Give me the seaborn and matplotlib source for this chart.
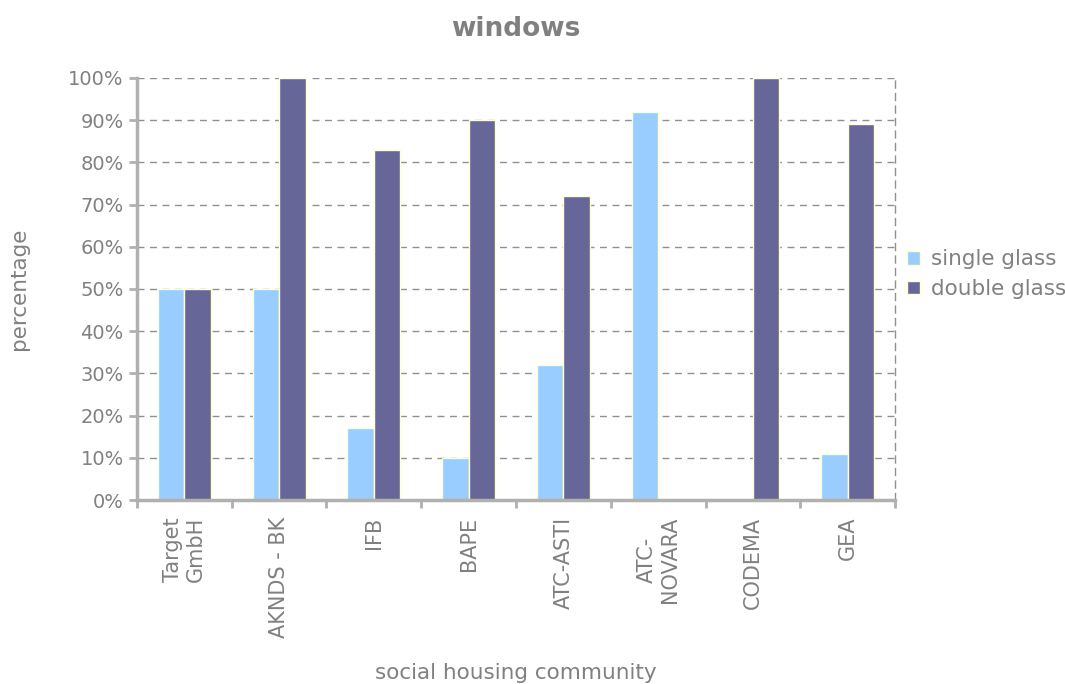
import numpy as np
import pandas as pd
import matplotlib.pyplot as plt
import seaborn as sns
from matplotlib.ticker import PercentFormatter, FixedLocator

communities = ["Target\nGmbH", "AKNDS - BK", "IFB", "BAPE", "ATC-ASTI",
               "ATC-\nNOVARA", "CODEMA", "GEA"]
single_glass = [50, 50, 17, 10, 32, 92, 0, 11]
double_glass = [50, 100, 83, 90, 72, 0, 100, 89]

df = pd.DataFrame({
    "community": communities * 2,
    "type": ["single glass"] * 8 + ["double glass"] * 8,
    "value": single_glass + double_glass,
})

sns.set_style("white")
plt.rcParams['font.family'] = ['DejaVu Sans']
txt = "#808080"

fig = plt.figure(figsize=(10.65, 6.84), dpi=100)
ax = fig.add_axes([0.1286, 0.269, 0.7118, 0.617])

sns.barplot(data=df, x="community", y="value", hue="type", ax=ax,
            palette={"single glass": "#99CCFF", "double glass": "#666699"},
            width=0.56, saturation=1, edgecolor="#FFFFCC", linewidth=1)

ax.set_ylim(0, 100)
ax.set_xlim(-0.5, 7.5)
ax.set_yticks(np.arange(0, 101, 10))
ax.yaxis.set_major_formatter(PercentFormatter(decimals=0))
ax.yaxis.grid(True, linestyle=(0, (5, 4)), color="#909090", linewidth=1)
ax.set_axisbelow(True)

# ticks at category boundaries
ax.xaxis.set_minor_locator(FixedLocator(np.arange(-0.5, 8, 1)))
ax.tick_params(axis="x", which="major", length=0, pad=12, labelsize=15,
               labelcolor=txt, rotation=90)
ax.tick_params(axis="x", which="minor", length=6, width=2, color="#b0b0b0",
               direction="out", bottom=True)
ax.tick_params(axis="y", length=6, width=2, color="#b0b0b0", labelsize=14,
               labelcolor=txt, left=True)
for lab in ax.get_xticklabels():
    lab.set_va("top")
    lab.set_ha("center")
    lab.set_multialignment("center")

for s in ["left", "bottom"]:
    ax.spines[s].set_color("#b0b0b0")
    ax.spines[s].set_linewidth(2.5)
ax.spines["top"].set_visible(False)
ax.spines["right"].set_linestyle((0, (5, 4)))
ax.spines["right"].set_color("#909090")
ax.spines["right"].set_linewidth(1)

ax.set_xlabel("social housing community", fontsize=15.5, color=txt, labelpad=18)
ax.set_ylabel("percentage", fontsize=15.5, color=txt, labelpad=28)
ax.set_title("windows", fontsize=19, fontweight="bold", color=txt, pad=30)

leg = ax.legend(loc="center left", bbox_to_anchor=(0.99, 0.535), frameon=False,
                fontsize=15.5, handlelength=0.6, handleheight=0.6,
                handletextpad=0.5, labelspacing=0.45)
for t in leg.get_texts():
    t.set_color(txt)

plt.savefig("out.png", dpi=100)
